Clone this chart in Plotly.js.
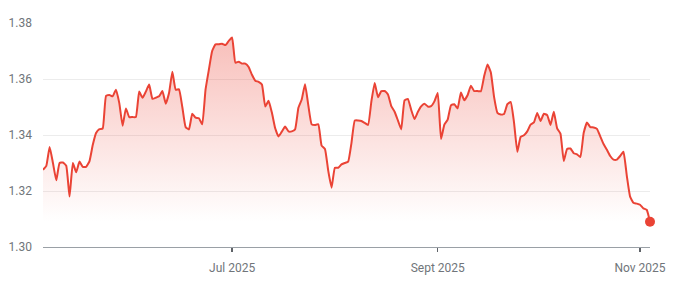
<!DOCTYPE html>
<html>
<head>
<meta charset="utf-8">
<script src="https://cdn.plot.ly/plotly-3.0.1.min.js"></script>
<style>
  html, body { margin: 0; padding: 0; background: #ffffff; }
  #chart { width: 683px; height: 296px; }
</style>
</head>
<body>
<div id="chart"></div>
<script>
// Daily series, 5 May 2025 -> 4 Nov 2025
const startDate = '2025-05-05';
const rates = [
  // May 5 - May 31
  1.3276, 1.3290, 1.3357, 1.3300, 1.3238, 1.3300, 1.3302, 1.3290, 1.3180, 1.3300,
  1.3267, 1.3305, 1.3286, 1.3286, 1.3306, 1.3364, 1.3407, 1.3421, 1.3423, 1.3540,
  1.3543, 1.3538, 1.3562, 1.3514, 1.3433, 1.3495, 1.3464,
  // Jun 1 - Jun 30
  1.3464, 1.3464, 1.3555, 1.3533, 1.3555, 1.3580, 1.3529, 1.3533, 1.3538, 1.3557,
  1.3512, 1.3550, 1.3626, 1.3562, 1.3563, 1.3500, 1.3428, 1.3420, 1.3476, 1.3462,
  1.3460, 1.3438, 1.3562, 1.3633, 1.3700, 1.3724, 1.3724, 1.3726, 1.3721, 1.3736,
  // Jul 1 - Jul 31
  1.3748, 1.3658, 1.3662, 1.3655, 1.3655, 1.3643, 1.3615, 1.3594, 1.3590, 1.3580,
  1.3502, 1.3522, 1.3480, 1.3424, 1.3395, 1.3412, 1.3430, 1.3413, 1.3413, 1.3420,
  1.3497, 1.3527, 1.3581, 1.3505, 1.3438, 1.3436, 1.3438, 1.3362, 1.3350, 1.3272,
  1.3212,
  // Aug 1 - Aug 31
  1.3283, 1.3283, 1.3295, 1.3300, 1.3305, 1.3372, 1.3452, 1.3452, 1.3450, 1.3443,
  1.3436, 1.3520, 1.3586, 1.3535, 1.3557, 1.3557, 1.3545, 1.3503, 1.3483, 1.3452,
  1.3420, 1.3524, 1.3529, 1.3490, 1.3457, 1.3482, 1.3502, 1.3512, 1.3502, 1.3503,
  1.3520,
  // Sep 1 - Sep 30
  1.3550, 1.3386, 1.3437, 1.3455, 1.3506, 1.3510, 1.3495, 1.3552, 1.3524, 1.3542,
  1.3576, 1.3557, 1.3557, 1.3556, 1.3610, 1.3652, 1.3624, 1.3535, 1.3479, 1.3473,
  1.3475, 1.3510, 1.3518, 1.3445, 1.3340, 1.3393, 1.3399, 1.3413, 1.3437, 1.3445,
  // Oct 1 - Oct 31
  1.3479, 1.3450, 1.3476, 1.3471, 1.3436, 1.3483, 1.3424, 1.3405, 1.3307, 1.3350,
  1.3352, 1.3335, 1.3331, 1.3321, 1.3407, 1.3445, 1.3428, 1.3427, 1.3422, 1.3395,
  1.3368, 1.3347, 1.3325, 1.3312, 1.3312, 1.3325, 1.3340, 1.3255, 1.3180, 1.3158,
  1.3155,
  // Nov 1 - Nov 4
  1.3151, 1.3138, 1.3133, 1.3090
];
const tickDates = ['2025-07-01', '2025-09-01', '2025-11-01'];
const tickLabels = ['Jul 2025', 'Sept 2025', 'Nov 2025'];
const yTicks = [1.30, 1.32, 1.34, 1.36, 1.38];
const yTickLabels = ['1.30', '1.32', '1.34', '1.36', '1.38'];

// build date strings
function addDays(iso, n) {
  const d = new Date(iso + 'T00:00:00Z');
  d.setUTCDate(d.getUTCDate() + n);
  return d.toISOString().slice(0, 10);
}
const dates = rates.map((_, i) => addDays(startDate, i));
const minRate = Math.min(...rates);
const maxRate = Math.max(...rates);
const lastIdx = rates.length - 1;

const RED = '#ea4335';

const baseline = {
  x: dates,
  y: rates.map(() => minRate),
  type: 'scatter',
  mode: 'lines',
  line: { width: 0, color: 'rgba(0,0,0,0)' },
  hoverinfo: 'skip',
  showlegend: false
};
const line = {
  x: dates,
  y: rates,
  type: 'scatter',
  mode: 'lines',
  line: { color: RED, width: 2, shape: 'spline', smoothing: 0.4 },
  fill: 'tonexty',
  fillgradient: {
    type: 'vertical',
    start: minRate,
    stop: maxRate,
    colorscale: [[0, 'rgba(234,67,53,0.0)'], [1, 'rgba(234,67,53,0.34)']]
  },
  showlegend: false
};
const endDot = {
  x: [dates[lastIdx]],
  y: [rates[lastIdx]],
  type: 'scatter',
  mode: 'markers',
  marker: { color: RED, size: 10 },
  cliponaxis: false,
  showlegend: false
};

const layout = {
  width: 683,
  height: 296,
  margin: { l: 43, r: 33, t: 23, b: 49 },
  paper_bgcolor: '#ffffff',
  plot_bgcolor: '#ffffff',
  font: { family: 'Roboto, Arial, sans-serif', size: 12, color: '#70757a' },
  xaxis: {
    type: 'date',
    range: [dates[0], dates[lastIdx]],
    tickmode: 'array',
    tickvals: tickDates,
    ticktext: tickLabels,
    ticks: 'outside',
    ticklen: 4,
    tickwidth: 1.5,
    tickcolor: '#5f6368',
    showgrid: false,
    showline: true,
    linecolor: '#9aa0a6',
    linewidth: 1,
    zeroline: false,
    ticklabelstandoff: 6,
    tickfont: { family: 'Roboto, Arial, sans-serif', size: 12, color: '#70757a' },
    fixedrange: true
  },
  yaxis: {
    range: [1.30, 1.38],
    tickmode: 'array',
    tickvals: yTicks,
    ticktext: yTickLabels,
    ticks: '',
    showgrid: true,
    gridcolor: '#ececec',
    gridwidth: 1,
    showline: false,
    zeroline: false,
    ticklabelstandoff: 10,
    tickfont: { family: 'Roboto, Arial, sans-serif', size: 12, color: '#70757a' },
    fixedrange: true
  },
  showlegend: false,
  hovermode: false
};

Plotly.newPlot('chart', [baseline, line, endDot], layout, { displayModeBar: false, staticPlot: true });
</script>
</body>
</html>
